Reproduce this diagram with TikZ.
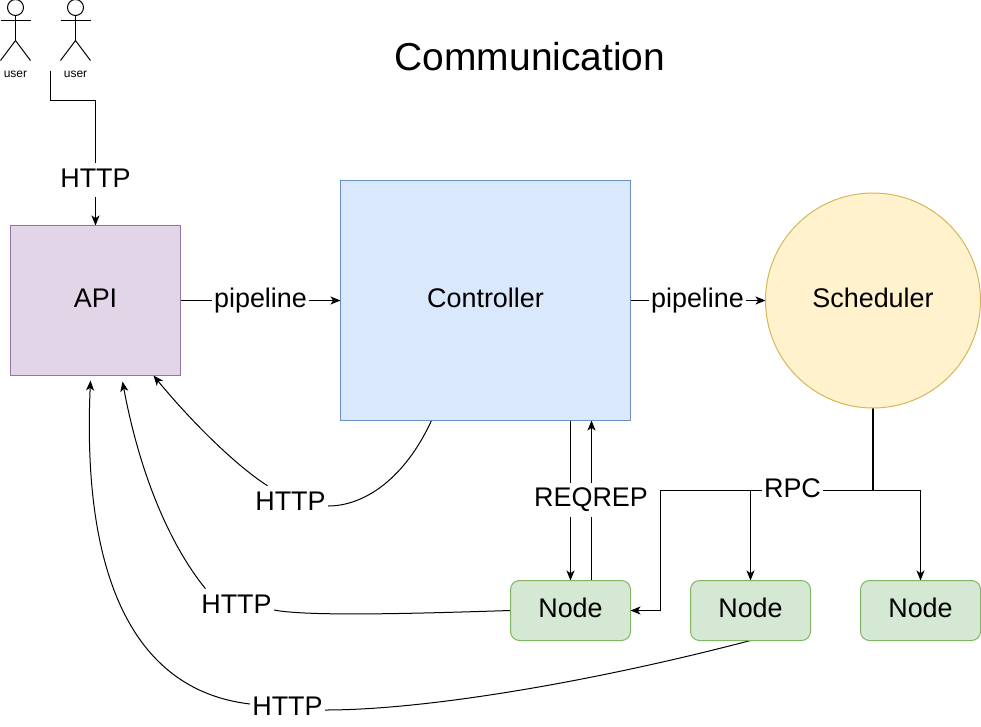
\documentclass[tikz,border=0pt]{standalone}
\usepackage{fontspec}
\setmainfont{Liberation Sans}
\usetikzlibrary{
  arrows.meta,
  positioning,
  calc,
  backgrounds
}
\definecolor{commApiFill}{HTML}{E1D5E7}
\definecolor{commApi}{HTML}{9673A6}
\definecolor{commCtrlFill}{HTML}{DAE8FC}
\definecolor{commCtrl}{HTML}{6C8EBF}
\definecolor{commSchedFill}{HTML}{FFF2CC}
\definecolor{commSched}{HTML}{D6B656}
\definecolor{commNodeFill}{HTML}{D5E8D4}
\definecolor{commNode}{HTML}{82B366}
\tikzset{
  commnode/.style={
    draw, line width=0.75pt, inner sep=0pt, outer sep=0pt,
    text height=18pt, text depth=7.5pt, font=\fontsize{20.2}{24}\selectfont
  },
  apibox/.style={commnode, fill=commApiFill, draw=commApi, minimum width=127.5pt, minimum height=112.5pt},
  ctrlbox/.style={commnode, fill=commCtrlFill, draw=commCtrl, minimum width=217.5pt, minimum height=180pt},
  schedbox/.style={commnode, circle, fill=commSchedFill, draw=commSched, minimum size=161.25pt},
  workerbox/.style={commnode, rounded corners=6.75pt, fill=commNodeFill, draw=commNode, minimum width=90pt, minimum height=45pt},
  flow/.style={-{Stealth[length=7.5pt, width=6pt, inset=2pt]}, line width=0.75pt},
  plainline/.style={line width=0.75pt},
  tag/.style={
    fill=white, inner xsep=1.5pt, inner ysep=0pt, text height=18pt, text depth=7.5pt,
    font=\fontsize{20.2}{24}\selectfont
  },
  actor/.style={line width=0.75pt},
  userlabel/.style={font=\fontsize{9}{11}\selectfont, inner sep=0pt},
  titlelabel/.style={font=\fontsize{29.2}{34}\selectfont, inner sep=0pt}
}

\begin{document}
\begin{tikzpicture}[x=0.75pt, y=-0.75pt]
  \useasboundingbox (0,0) rectangle (981,726);
  \node[titlelabel] (title) at (530,57) {Communication};
  \foreach \ux/\uname in {15.5/usera, 75.5/userb} {
    \draw[actor] (\ux,7.5) circle[radius=6pt];
    \draw[actor] (\ux,15.5) -- (\ux,40.5) (\ux-15,20.5) -- (\ux+15,20.5);
    \draw[actor] (\ux-15,60.5) -- (\ux,40.5) -- (\ux+15,60.5);
    \node[userlabel] (\uname) at (\ux,74) {user};
  }
  \node[apibox] (api) at (95.5,300.5) {API};
  \node[ctrlbox, right=120pt of api] (ctrl) {Controller};
  \node[schedbox, right=101.25pt of ctrl] (sched) {Scheduler};
  \node[workerbox] (nodea) at (570.5,610.5) {Node};
  \node[workerbox, right=45pt of nodea] (nodeb) {Node};
  \node[workerbox, right=37.5pt of nodeb] (nodec) {Node};
  \node[tag] (httpuser) at (95.5,180) {HTTP};
  \node[tag] (pipea) at (260.5,300.5) {pipeline};
  \node[tag] (pipeb) at (697.5,300.5) {pipeline};
  \node[tag] (httpa) at (290.5,503) {HTTP};
  \node[tag] (httpb) at (236.5,606) {HTTP};
  \node[tag] (httpc) at (287.5,708) {HTTP};
  \node[tag] (reqrep) at (591,499.5) {REQREP};
  \node[tag] (rpc) at (792.5,490.5) {RPC};
  \coordinate (userout) at (50.5,70.5);
  \coordinate (rpcjoin) at (sched.south |- rpc.center);
  \coordinate (requp) at ($(nodea.north)+(21,0)$);
  \coordinate (ctrlout) at ($(ctrl.south west)+(91,0)$);
  \coordinate (apiina) at ($(api.south west)+(143,0)$);
  \coordinate (apiinb) at ($(api.south west)+(112,6)$);
  \coordinate (apiinc) at ($(api.south west)+(80,5)$);
  \begin{scope}[on background layer]
    \draw[flow] (userout) |- (95.5,100.5) -- (api.north);
    \draw[flow] (api.east) -- (ctrl.west);
    \draw[flow] (ctrl.east) -- (sched.west);
    \draw[flow] (nodea.north |- ctrl.south) -- (nodea.north);
    \draw[flow] (requp) -- (requp |- ctrl.south);
    \draw[line width=1.5pt] (sched.south) -- (rpcjoin);
    \draw[flow] (rpcjoin) -| (nodec.north);
    \draw[flow] (rpcjoin) -| (nodeb.north);
    \draw[flow] (rpcjoin) -- (660.5,490.5) |- (nodea.east);
    \draw[plainline] (ctrlout) .. controls (405,478) and (365,506) .. ($(httpa.east)+(0,3)$);
    \draw[flow] ($(httpa.north)+(-23,0)$) .. controls (235,465) and (190,420) .. (apiina);
    \draw[plainline] (nodea.west) .. controls (430,613) and (310,617) .. ($(httpb.east)+(0,4)$);
    \draw[flow] ($(httpb.north)+(-31,0)$) .. controls (170,545) and (140,475) .. (apiinb);
    \draw[plainline] (nodeb.south) .. controls (600,680) and (430,710) .. ($(httpc.east)+(0,2)$);
    \draw[flow] ($(httpc.west)+(0,-4)$) .. controls (130,690) and (82,570) .. (apiinc);
  \end{scope}
\end{tikzpicture}
\end{document}
